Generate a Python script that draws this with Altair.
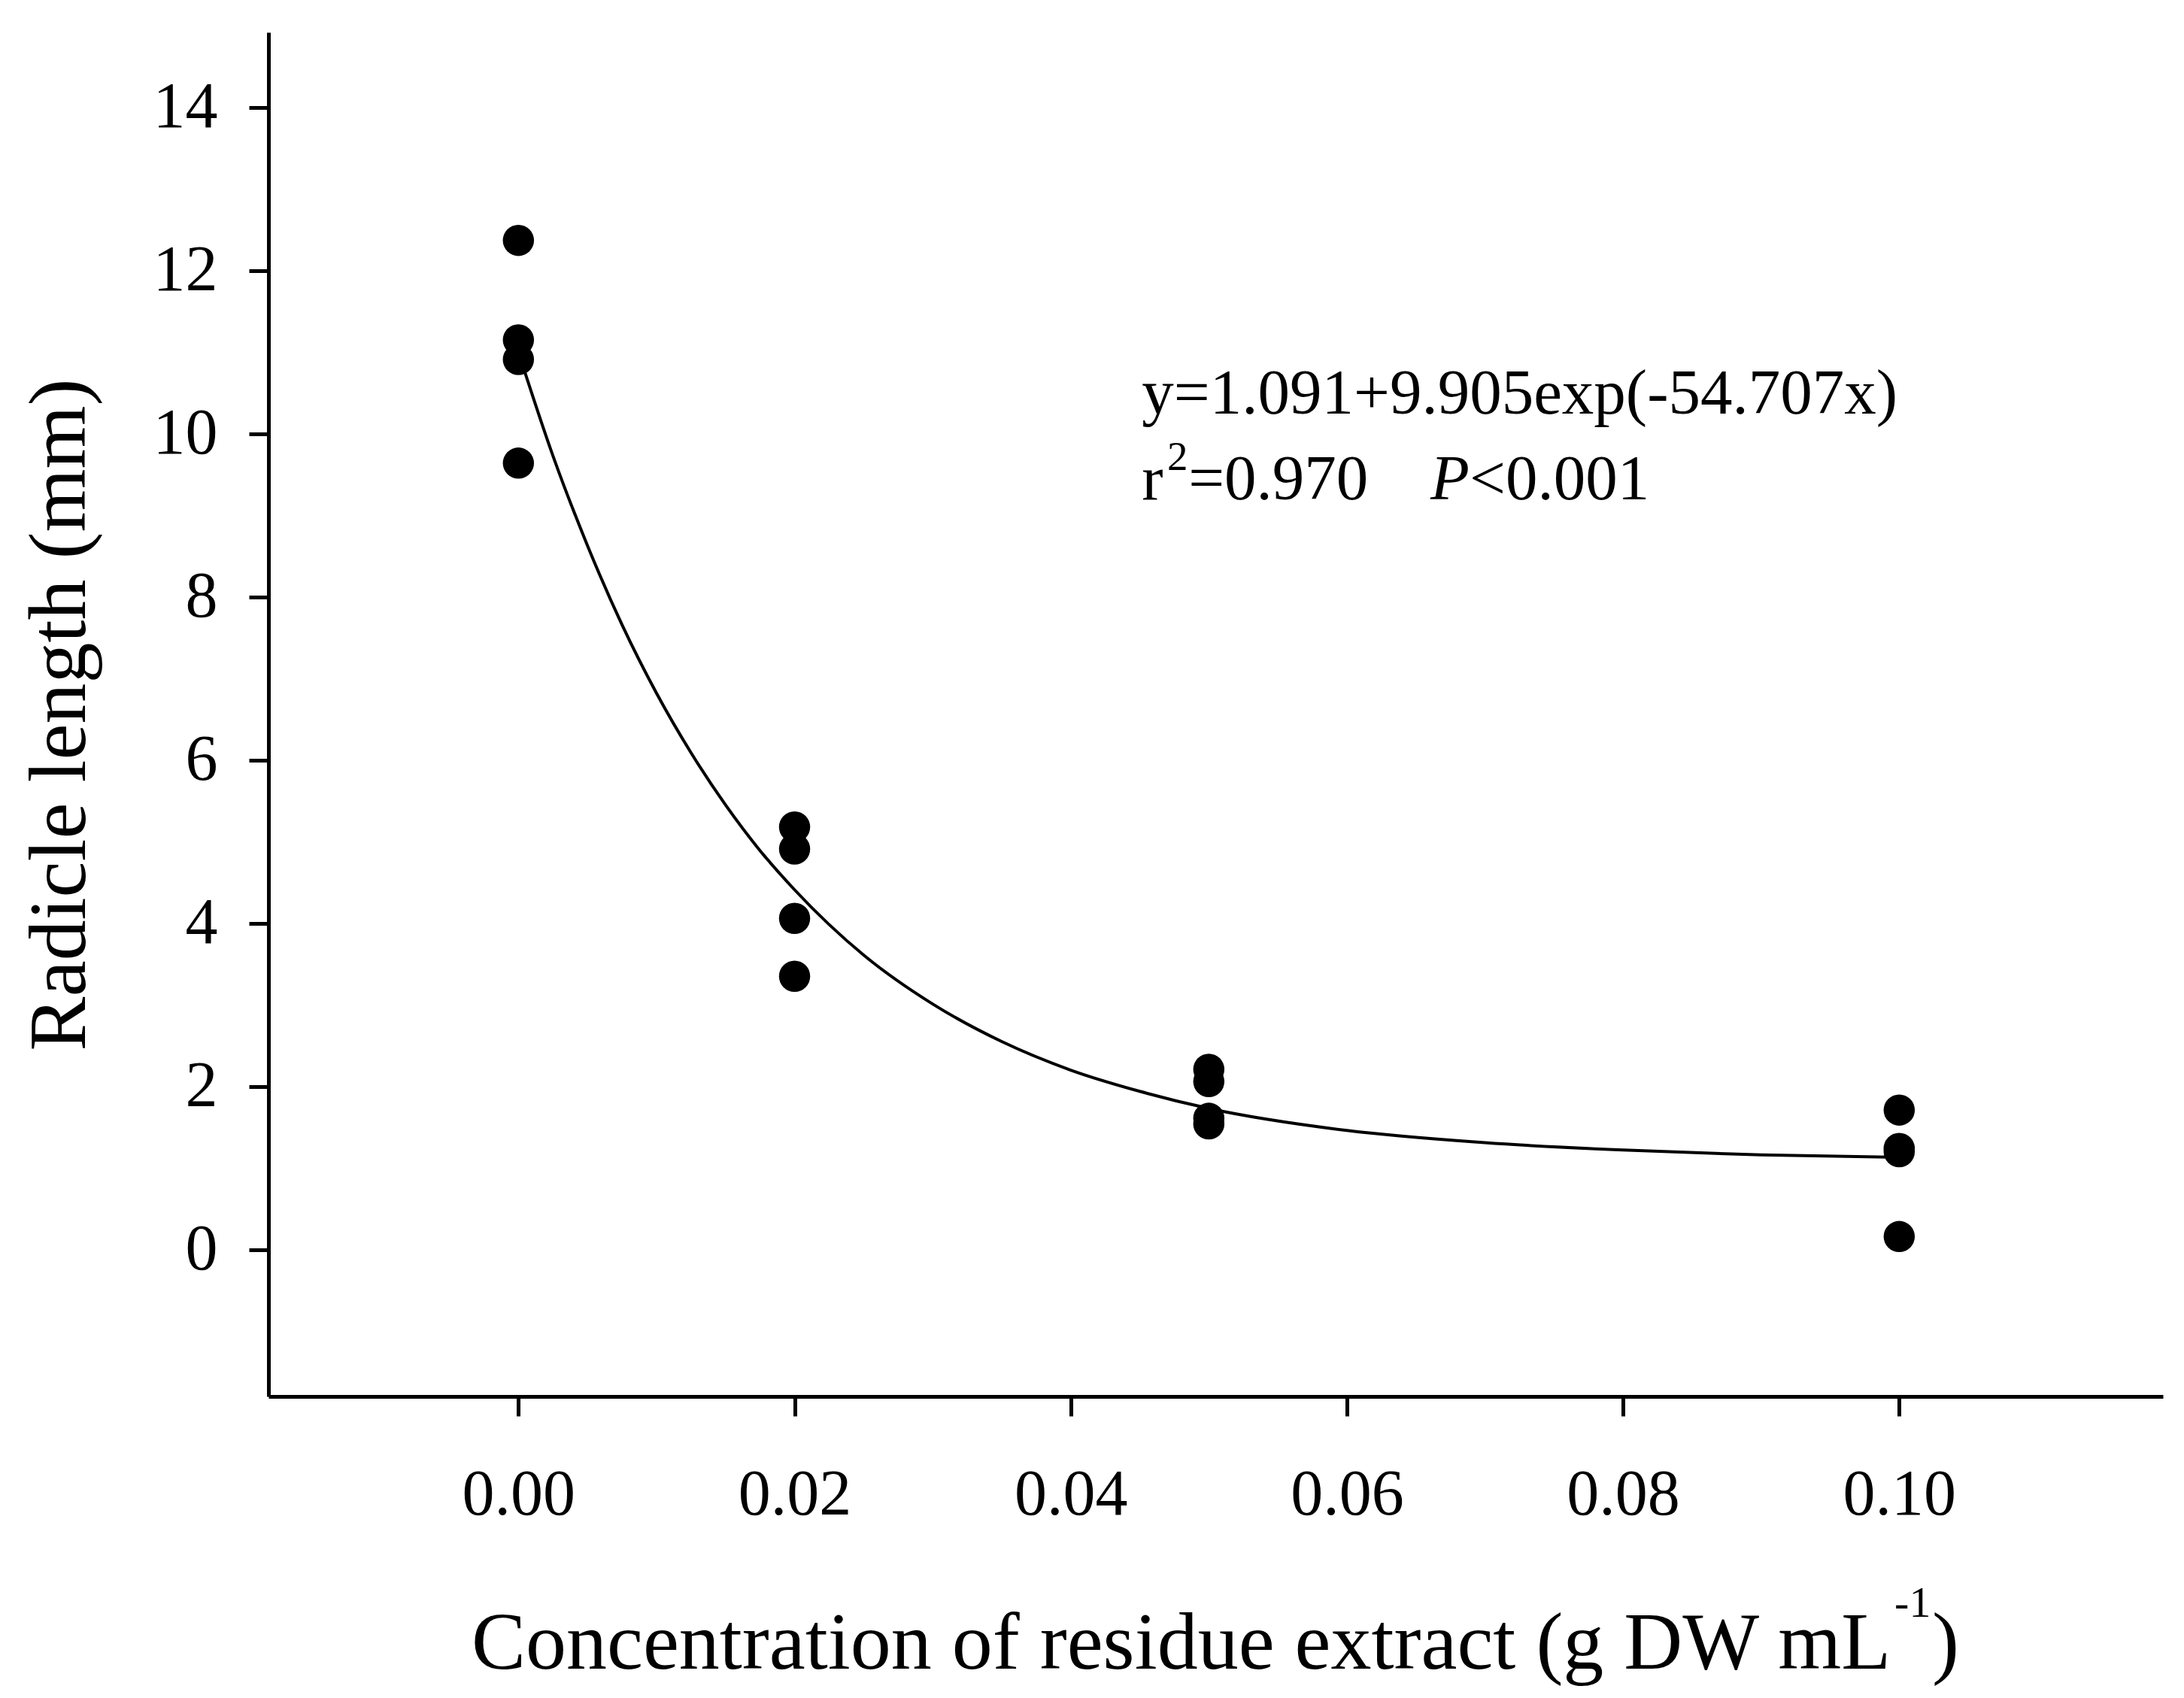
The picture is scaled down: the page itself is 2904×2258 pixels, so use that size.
import altair as alt
import pandas as pd

FONT = "Liberation Serif"

conc = [0.00, 0.00, 0.00, 0.00,
        0.02, 0.02, 0.02, 0.02,
        0.05, 0.05, 0.05, 0.05,
        0.10, 0.10, 0.10, 0.10]
radicle = [12.37, 11.15, 10.91, 9.64,
           5.18, 4.91, 4.06, 3.35,
           2.21, 2.06, 1.61, 1.54,
           1.71, 1.24, 1.20, 0.16]

# Fitted curve
curve_x = [0.0, 0.0025, 0.005, 0.0075, 0.01, 0.0125, 0.015, 0.0175, 0.02,
           0.025, 0.03, 0.035, 0.04, 0.045, 0.05, 0.06, 0.07, 0.08, 0.09, 0.10]
curve_y = [11.00, 9.73, 8.63, 7.66, 6.82, 6.09, 5.45, 4.89, 4.41,
           3.61, 3.01, 2.55, 2.20, 1.94, 1.73, 1.46, 1.31, 1.22, 1.16, 1.13]

x_ticks = [0.00, 0.02, 0.04, 0.06, 0.08, 0.10]
y_ticks = [0, 2, 4, 6, 8, 10, 12, 14]

x_domain = [-0.0181, 0.1191]
y_domain = [-1.8, 14.92]

# Annotation texts (anchored in data coordinates)
ann_text = ["y=1.091+9.905exp(-54.707x)", "r", "2", "=0.970", "<0.001", "-1", ")"]
ann_x = [0.04515, 0.04515, 0.04699, 0.04852, 0.06888, 0.09966, 0.10238]
ann_y = [10.25, 9.20, 9.56, 9.20, 9.20, -4.50, -5.14]
ann_fs = [85, 85, 55, 85, 85, 58, 108]

ital_text = ["P"]
ital_x = [0.06605]
ital_y = [9.20]

xtitle_text = ["Concentration of residue extract (g DW mL"]
xtitle_x = [0.0994]
xtitle_y = [-5.14]

pts = pd.DataFrame({"conc": conc, "len": radicle})
crv = pd.DataFrame({"conc": curve_x, "len": curve_y})
ann = pd.DataFrame({"conc": ann_x, "len": ann_y, "t": ann_text, "fs": ann_fs})
ital = pd.DataFrame({"conc": ital_x, "len": ital_y, "t": ital_text})
xt = pd.DataFrame({"conc": xtitle_x, "len": xtitle_y, "t": xtitle_text})

xscale = alt.Scale(domain=x_domain, nice=False, zero=False)
yscale = alt.Scale(domain=y_domain, nice=False, zero=False)

xaxis = alt.Axis(values=x_ticks, format=".2f", title=None, grid=False,
                 labelFont=FONT, labelFontSize=86, labelColor="black",
                 labelPadding=62, tickSize=26, tickWidth=5, tickColor="black",
                 domainWidth=5, domainColor="black", labelFlush=False)
yaxis = alt.Axis(values=y_ticks, format="d", title="Radicle length (mm)", grid=False,
                 labelFont=FONT, labelFontSize=86, labelColor="black",
                 labelPadding=42, tickSize=26, tickWidth=5, tickColor="black",
                 domainWidth=5, domainColor="black", labelFlush=False,
                 titleFont=FONT, titleFontSize=108, titleFontWeight="normal",
                 titleColor="black", titlePadding=68)

X = alt.X("conc:Q", scale=xscale, axis=xaxis)
Y = alt.Y("len:Q", scale=yscale, axis=yaxis)

curve = alt.Chart(crv).mark_line(color="black", strokeWidth=4,
                                 interpolate="monotone").encode(x=X, y=Y)
points = alt.Chart(pts).mark_circle(size=1720, color="black", opacity=1).encode(x=X, y=Y)

ann_layer = alt.Chart(ann).mark_text(font=FONT, align="left", baseline="alphabetic",
                                     color="black").encode(
    x=alt.X("conc:Q", scale=xscale), y=alt.Y("len:Q", scale=yscale),
    text="t:N", size=alt.Size("fs:Q", scale=None, legend=None))
ital_layer = alt.Chart(ital).mark_text(font=FONT, fontStyle="italic", fontSize=85,
                                       align="left", baseline="alphabetic",
                                       color="black").encode(
    x=alt.X("conc:Q", scale=xscale), y=alt.Y("len:Q", scale=yscale), text="t:N")
xt_layer = alt.Chart(xt).mark_text(font=FONT, fontSize=108, align="right",
                                   baseline="alphabetic", color="black").encode(
    x=alt.X("conc:Q", scale=xscale), y=alt.Y("len:Q", scale=yscale), text="t:N")

chart = alt.layer(curve, points, ann_layer, ital_layer, xt_layer).properties(
    width=2519, height=1814,
    autosize=alt.AutoSizeParams(type="none"),
    padding={"left": 349, "top": 35, "right": 20, "bottom": 398},
    background="white",
).configure_view(stroke=None)

chart.save("out.html", embed_options={"renderer": "svg", "actions": False})
